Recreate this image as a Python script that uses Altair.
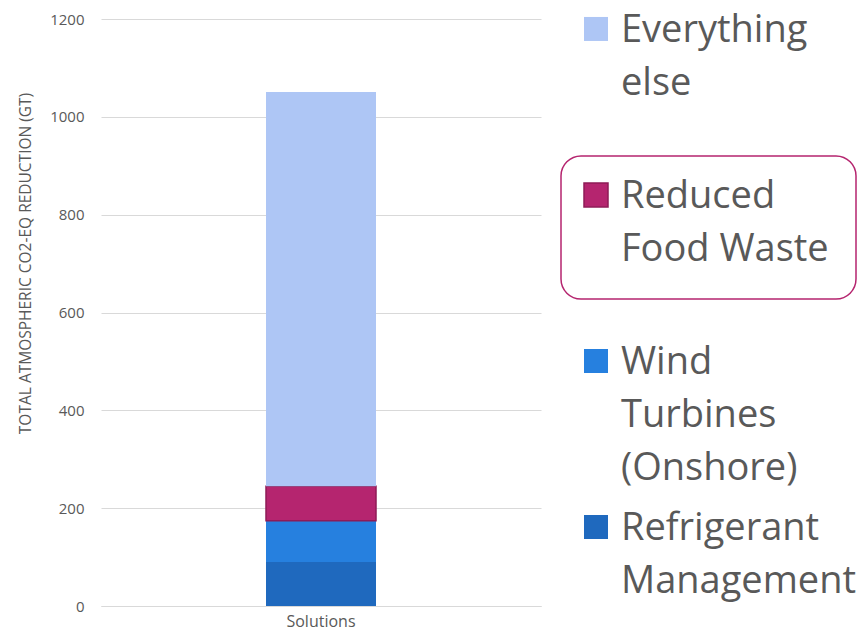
import altair as alt
import pandas as pd

FONT = "Open Sans"
GREY = "#595959"

# ---- data ----
categories = ["Refrigerant Management", "Wind Turbines (Onshore)", "Reduced Food Waste", "Everything else"]
values = [89.7, 84.6, 70.5, 806.0]
stack_order = [1, 2, 3, 4]
colors = ["#1F69BE", "#2680DF", "#B5256F", "#AEC6F5"]
outline = ["#1F69BE", "#2680DF", "#8E1B57", "#AEC6F5"]
outline_width = [0, 0, 1.5, 0]
group = "Solutions"
y_ticks = [0, 200, 400, 600, 800, 1000, 1200]
y_title = "TOTAL ATMOSPHERIC CO2-EQ REDUCTION (GT)"

legend_labels = ["Refrigerant\nManagement", "Wind\nTurbines\n(Onshore)", "Reduced\nFood Waste", "Everything\nelse"]
legend_slot = [3, 2, 1, 0]
highlight = "Reduced Food Waste"

df = pd.DataFrame({
    "group": [group] * len(categories),
    "category": categories,
    "value": values,
    "order": stack_order,
    "outline": outline,
    "outline_width": outline_width,
})

leg = pd.DataFrame({
    "category": categories,
    "label": legend_labels,
    "slot": legend_slot,
    "outline": outline,
    "outline_width": outline_width,
})

color_scale = alt.Scale(domain=categories, range=colors)

bar = alt.Chart(df).mark_bar().encode(
    x=alt.X("group:N", title=None,
            scale=alt.Scale(paddingInner=0.6, paddingOuter=0.6),
            axis=alt.Axis(labelAngle=0, labelFontSize=16, labelColor=GREY, labelFont=FONT,
                          ticks=False, domain=True, domainColor="#D9D9D9", labelPadding=7)),
    y=alt.Y("value:Q", stack="zero", scale=alt.Scale(domain=[0, 1200], nice=False),
            axis=alt.Axis(values=y_ticks, format="d", title=y_title, labelFontSize=15, labelColor=GREY,
                          labelFont=FONT, labelPadding=17, ticks=False, tickSize=0, domain=False,
                          gridColor="#D9D9D9", titleFontSize=15.5, titleFontWeight="normal",
                          titleFont=FONT, titleColor=GREY, titleX=-68, titleY=244)),
    color=alt.Color("category:N", scale=color_scale, legend=None),
    stroke=alt.Stroke("outline:N", scale=None),
    strokeWidth=alt.StrokeWidth("outline_width:Q", scale=None),
    order=alt.Order("order:Q"),
).properties(width=440, height=587)

y_dom = [-0.06, 3.476]
y_leg = alt.Y("slot:Q", scale=alt.Scale(domain=y_dom, reverse=True, nice=False, zero=False), axis=None)
base = alt.Chart(leg)

squares = base.mark_square(size=576, opacity=1).encode(
    x=alt.value(35),
    y=y_leg,
    color=alt.Color("category:N", scale=color_scale, legend=None),
    stroke=alt.Stroke("outline:N", scale=None),
    strokeWidth=alt.StrokeWidth("outline_width:Q", scale=None),
)

texts = base.mark_text(align="left", baseline="alphabetic", dy=13, fontSize=38,
                       lineBreak="\n", lineHeight=53, font=FONT, color=GREY).encode(
    x=alt.value(60),
    y=y_leg,
    text="label:N",
)

box = base.transform_filter(alt.datum.category == highlight).transform_calculate(
    top="datum.slot - 0.235", bottom="datum.slot + 0.627"
).mark_rect(cornerRadius=20, fill="white", fillOpacity=0, stroke="#B5256F", strokeWidth=1.5).encode(
    x=alt.value(0),
    x2=alt.value(295),
    y=alt.Y("top:Q", scale=alt.Scale(domain=y_dom, reverse=True, nice=False, zero=False), axis=None),
    y2="bottom:Q",
)

legend = alt.layer(box, squares, texts).properties(width=296, height=587)

chart = alt.hconcat(bar, legend, spacing=20, bounds="flush").configure_view(stroke=None).properties(
    padding={"left": 9, "top": 3, "right": 0, "bottom": 0}
)

chart.save("out.html", embed_options={"renderer": "svg", "actions": False})
